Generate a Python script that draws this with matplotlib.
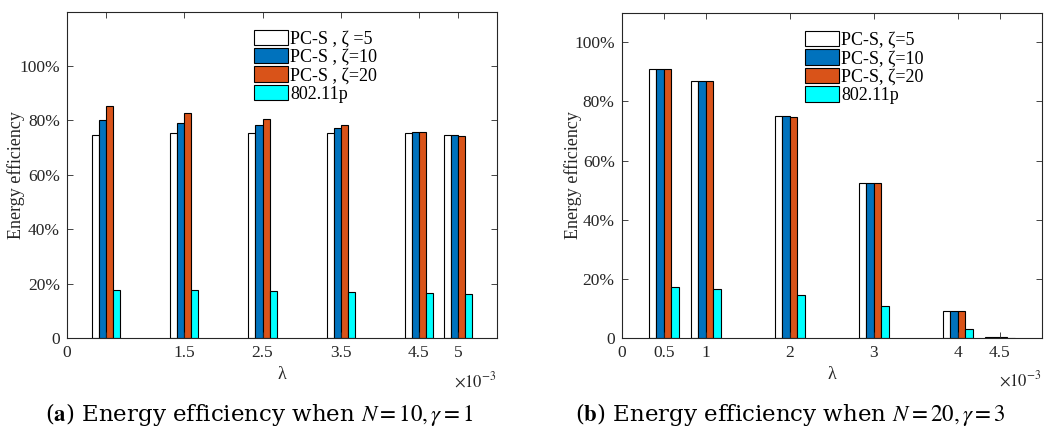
import numpy as np
import matplotlib
matplotlib.use('Agg')
import matplotlib.pyplot as plt

plt.rcParams['font.family'] = ['Liberation Serif', 'DejaVu Serif']
plt.rcParams['mathtext.fontset'] = 'stix'

# panel (a): N=10, gamma=1
lam_a = [0.5, 1.5, 2.5, 3.5, 4.5, 5.0]
a_z5 = [0.748, 0.752, 0.755, 0.755, 0.752, 0.747]
a_z10 = [0.803, 0.792, 0.782, 0.772, 0.758, 0.748]
a_z20 = [0.854, 0.826, 0.804, 0.782, 0.758, 0.744]
a_p = [0.177, 0.175, 0.171, 0.168, 0.164, 0.160]
a_ticks = [0, 0.5, 1.5, 2.5, 3.5, 4.5, 5]
a_ticklabels = ['0', '', '1.5', '2.5', '3.5', '4.5', '5']
a_labels = ['PC-S , ζ =5', 'PC-S , ζ=10', 'PC-S , ζ=20', '802.11p']

# panel (b): N=20, gamma=3
lam_b = [0.5, 1.0, 2.0, 3.0, 4.0, 4.5]
b_z5 = [0.909, 0.870, 0.749, 0.523, 0.091, 0.002]
b_z10 = [0.909, 0.870, 0.749, 0.523, 0.091, 0.002]
b_z20 = [0.909, 0.868, 0.747, 0.523, 0.091, 0.002]
b_p = [0.174, 0.166, 0.146, 0.109, 0.030, 0.001]
b_ticks = [0, 0.5, 1, 2, 3, 4, 4.5]
b_ticklabels = ['0', '0.5', '1', '2', '3', '4', '4.5']
b_labels = ['PC-S, ζ=5', 'PC-S, ζ=10', 'PC-S, ζ=20', '802.11p']

colors = ['white', '#0072BD', '#D95319', '#00FFFF']
ytick_vals = [0, 0.2, 0.4, 0.6, 0.8, 1.0]
ytick_labels = ['0', '20%', '40%', '60%', '80%', '100%']
txt = '#262626'

fig = plt.figure(figsize=(10.54, 4.30), dpi=100)


def draw(ax, lam, series, labels, xticks, xticklabels, xlim, ylim, leg_anchor, ylab_x):
    w = 0.09
    x = np.array(lam)
    bars = []
    for i, s in enumerate(series):
        b = ax.bar(x + (i - 1.5) * w, s, width=w, color=colors[i],
                   edgecolor='black', linewidth=0.8)
        bars.append(b)
    ax.set_xlim(*xlim)
    ax.set_ylim(*ylim)
    ax.set_xticks(xticks)
    ax.set_xticklabels(xticklabels)
    ax.set_yticks(ytick_vals)
    ax.set_yticklabels(ytick_labels)
    ax.tick_params(direction='in', top=True, right=True, labelsize=12.5,
                   colors=txt, length=4, width=0.6, pad=5)
    for sp in ax.spines.values():
        sp.set_color(txt)
        sp.set_linewidth(0.8)
    ax.set_ylabel('Energy efficiency', fontsize=13, color=txt)
    ax.yaxis.set_label_coords(ylab_x, 0.5)
    ax.set_xlabel('λ', fontsize=13, color=txt, labelpad=4)
    ax.text(1.0, -0.1, r'$\times 10^{-3}$', transform=ax.transAxes,
            ha='right', va='top', fontsize=12, color=txt)
    ax.legend(bars, labels, loc='upper left', bbox_to_anchor=leg_anchor,
              frameon=False, fontsize=13, handlelength=1.9, handleheight=0.95,
              handletextpad=0.1, labelspacing=0.02, borderaxespad=0,
              borderpad=0)


ax1 = fig.add_axes([0.0636, 0.214, 0.408, 0.759])
draw(ax1, lam_a, [a_z5, a_z10, a_z20, a_p], a_labels, a_ticks, a_ticklabels,
     (0, 5.5), (0, 1.2), (0.435, 0.945), -0.098)

ax2 = fig.add_axes([0.5898, 0.214, 0.3985, 0.7565])
draw(ax2, lam_b, [b_z5, b_z10, b_z20, b_p], b_labels, b_ticks, b_ticklabels,
     (0, 5), (0, 1.1), (0.436, 0.944), -0.095)

fig.text(0.2455, 0.035, r'($\mathbf{a}$) Energy efficiency when $N=10,\gamma=1$',
         ha='center', va='center', fontsize=16.5, family='DejaVu Serif')
fig.text(0.7495, 0.035, r'($\mathbf{b}$) Energy efficiency when $N=20,\gamma=3$',
         ha='center', va='center', fontsize=16.5, family='DejaVu Serif')

fig.savefig('out.png', dpi=100)
